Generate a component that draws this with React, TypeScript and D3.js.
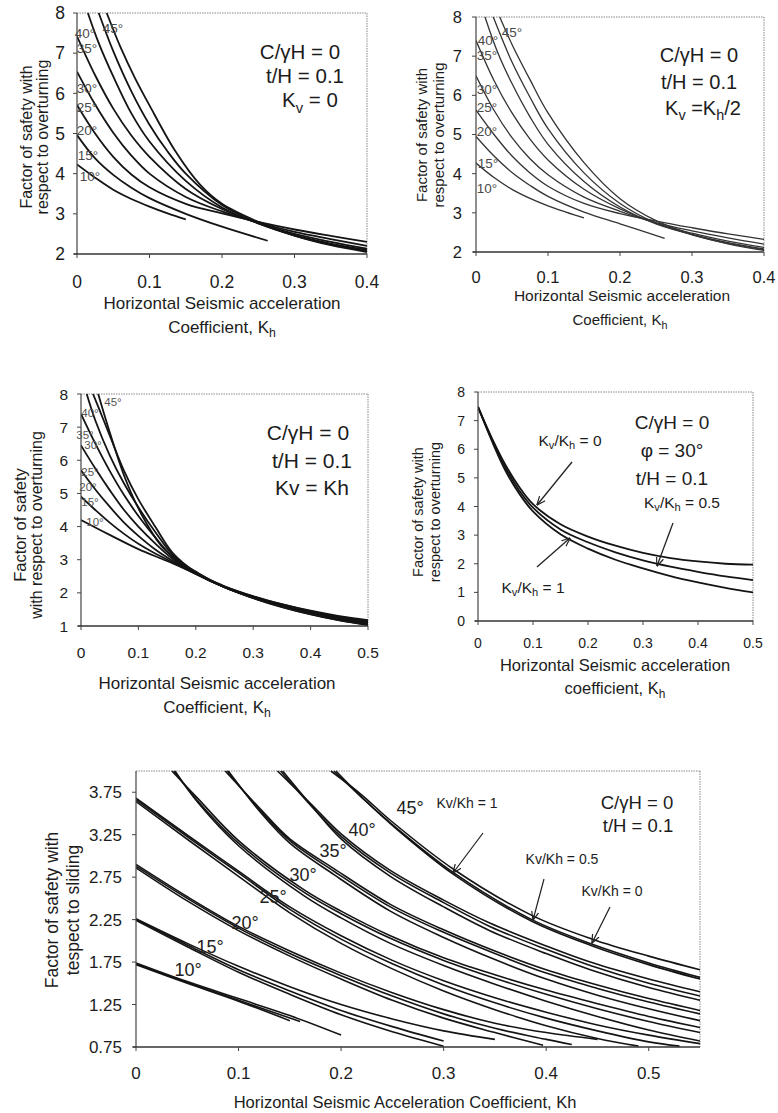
import React from 'react';
import * as d3 from 'd3';

type Pt = [number, number];

// ---------------- tick values ----------------
const ticksX04 = [0, 0.1, 0.2, 0.3, 0.4];
const ticksX05 = [0, 0.1, 0.2, 0.3, 0.4, 0.5];
const ticksY2to8 = [2, 3, 4, 5, 6, 7, 8];
const ticksY1to8 = [1, 2, 3, 4, 5, 6, 7, 8];
const ticksY0to8 = [0, 1, 2, 3, 4, 5, 6, 7, 8];
const ticksYSlide = [0.75, 1.25, 1.75, 2.25, 2.75, 3.25, 3.75];
const angleNames = ['10°', '15°', '20°', '25°', '30°', '35°', '40°', '45°'];

// ---------------- Panel A: overturning, Kv = 0 ----------------
const ovA10: Pt[] = [[0, 4.23], [0.025, 3.9], [0.05, 3.6], [0.075, 3.37], [0.1, 3.18], [0.125, 3.01], [0.15, 2.86]];
const ovA15: Pt[] = [[0, 4.96], [0.025, 4.38], [0.05, 3.97], [0.075, 3.65], [0.1, 3.39], [0.15, 3.0], [0.2, 2.68], [0.263, 2.33]];
const ovA20: Pt[] = [[0, 5.71], [0.025, 5.0], [0.05, 4.42], [0.075, 3.98], [0.1, 3.66], [0.15, 3.25], [0.2, 3.01], [0.25, 2.8], [0.3, 2.61], [0.35, 2.45], [0.4, 2.3]];
const ovA25: Pt[] = [[0, 6.54], [0.025, 5.72], [0.05, 5.02], [0.075, 4.45], [0.1, 4.0], [0.15, 3.42], [0.2, 3.06], [0.25, 2.78], [0.3, 2.55], [0.35, 2.37], [0.4, 2.2]];
const ovA30: Pt[] = [[0, 7.42], [0.025, 6.45], [0.05, 5.62], [0.075, 4.95], [0.1, 4.42], [0.15, 3.62], [0.2, 3.12], [0.25, 2.77], [0.3, 2.5], [0.35, 2.3], [0.4, 2.13]];
const ovA35: Pt[] = [[0.015, 8], [0.03, 7.25], [0.05, 6.42], [0.075, 5.5], [0.1, 4.8], [0.15, 3.82], [0.2, 3.16], [0.25, 2.76], [0.3, 2.47], [0.35, 2.26], [0.4, 2.1]];
const ovA40: Pt[] = [[0.03, 8], [0.05, 7.05], [0.075, 6.05], [0.1, 5.22], [0.125, 4.55], [0.15, 4.0], [0.2, 3.22], [0.25, 2.77], [0.3, 2.46], [0.35, 2.24], [0.4, 2.07]];
const ovA45: Pt[] = [[0.041, 8], [0.06, 7.15], [0.08, 6.38], [0.1, 5.7], [0.136, 4.55], [0.17, 3.72], [0.2, 3.25], [0.25, 2.8], [0.3, 2.46], [0.35, 2.22], [0.4, 2.05]];

// ---------------- Panel B: overturning, Kv = Kh/2 ----------------
const ovB10: Pt[] = [[0, 4.27], [0.025, 3.9], [0.05, 3.6], [0.075, 3.37], [0.1, 3.18], [0.125, 3.02], [0.15, 2.87]];
const ovB15: Pt[] = [[0, 4.95], [0.025, 4.45], [0.05, 4.03], [0.075, 3.7], [0.1, 3.42], [0.15, 3.02], [0.2, 2.72], [0.262, 2.35]];
const ovB20: Pt[] = [[0, 5.62], [0.025, 5.0], [0.05, 4.45], [0.075, 4.02], [0.1, 3.68], [0.15, 3.24], [0.2, 2.98], [0.25, 2.79], [0.3, 2.62], [0.35, 2.46], [0.4, 2.32]];
const ovB25: Pt[] = [[0, 6.5], [0.025, 5.62], [0.05, 4.92], [0.075, 4.38], [0.1, 3.97], [0.15, 3.4], [0.2, 3.04], [0.25, 2.75], [0.3, 2.54], [0.35, 2.36], [0.4, 2.2]];
const ovB30: Pt[] = [[0, 7.4], [0.025, 6.38], [0.05, 5.55], [0.075, 4.88], [0.1, 4.35], [0.15, 3.6], [0.2, 3.1], [0.25, 2.73], [0.3, 2.48], [0.35, 2.28], [0.4, 2.12]];
const ovB35: Pt[] = [[0.0125, 8], [0.03, 7.1], [0.05, 6.3], [0.075, 5.45], [0.1, 4.75], [0.15, 3.8], [0.2, 3.15], [0.25, 2.72], [0.3, 2.45], [0.35, 2.24], [0.4, 2.08]];
const ovB40: Pt[] = [[0.024, 8], [0.05, 6.85], [0.075, 5.95], [0.1, 5.15], [0.15, 4.02], [0.2, 3.24], [0.25, 2.74], [0.3, 2.44], [0.35, 2.22], [0.4, 2.06]];
const ovB45: Pt[] = [[0.033, 8], [0.05, 7.3], [0.075, 6.4], [0.1, 5.55], [0.15, 4.28], [0.2, 3.36], [0.25, 2.8], [0.3, 2.45], [0.35, 2.21], [0.4, 2.04]];

// ---------------- Panel C: overturning, Kv = Kh ----------------
const ovC10: Pt[] = [[0, 4.2], [0.05, 3.75], [0.1, 3.32], [0.15, 2.96], [0.2, 2.58], [0.25, 2.2], [0.3, 1.9], [0.35, 1.66], [0.4, 1.46], [0.45, 1.3], [0.5, 1.18]];
const ovC15: Pt[] = [[0, 4.9], [0.025, 4.5], [0.05, 4.12], [0.075, 3.78], [0.1, 3.48], [0.13, 3.18], [0.16, 2.92], [0.2, 2.57], [0.25, 2.19], [0.3, 1.89], [0.35, 1.65], [0.4, 1.45], [0.45, 1.28], [0.5, 1.15]];
const ovC20: Pt[] = [[0, 5.7], [0.025, 5.12], [0.05, 4.6], [0.075, 4.12], [0.1, 3.72], [0.13, 3.3], [0.16, 2.96], [0.2, 2.57], [0.25, 2.18], [0.3, 1.88], [0.35, 1.63], [0.4, 1.43], [0.45, 1.26], [0.5, 1.12]];
const ovC25: Pt[] = [[0, 6.45], [0.025, 5.75], [0.05, 5.1], [0.075, 4.5], [0.1, 4.0], [0.13, 3.48], [0.16, 3.02], [0.2, 2.58], [0.25, 2.17], [0.3, 1.87], [0.35, 1.62], [0.4, 1.41], [0.45, 1.23], [0.5, 1.09]];
const ovC30: Pt[] = [[0, 7.4], [0.025, 6.5], [0.05, 5.68], [0.075, 4.95], [0.1, 4.32], [0.13, 3.66], [0.16, 3.08], [0.2, 2.59], [0.25, 2.17], [0.3, 1.86], [0.35, 1.6], [0.4, 1.39], [0.45, 1.21], [0.5, 1.07]];
const ovC35: Pt[] = [[0.01, 8], [0.025, 7.2], [0.05, 6.15], [0.075, 5.3], [0.1, 4.58], [0.13, 3.82], [0.16, 3.14], [0.2, 2.6], [0.25, 2.17], [0.3, 1.85], [0.35, 1.59], [0.4, 1.37], [0.45, 1.19], [0.5, 1.05]];
const ovC40: Pt[] = [[0.021, 8], [0.035, 7.4], [0.05, 6.75], [0.075, 5.68], [0.1, 4.82], [0.13, 3.98], [0.16, 3.2], [0.2, 2.62], [0.25, 2.17], [0.3, 1.85], [0.35, 1.58], [0.4, 1.36], [0.45, 1.18], [0.5, 1.04]];
const ovC45: Pt[] = [[0.03, 8], [0.048, 6.96], [0.077, 5.45], [0.106, 4.35], [0.14, 3.42], [0.17, 2.96], [0.2, 2.64], [0.25, 2.17], [0.3, 1.84], [0.35, 1.57], [0.4, 1.35], [0.45, 1.17], [0.5, 1.03]];

// ---------------- Panel D: overturning, phi = 30°, Kv/Kh ratios ----------------
const ovDk0: Pt[] = [[0, 7.48], [0.025, 6.4], [0.05, 5.45], [0.075, 4.68], [0.1, 4.08], [0.15, 3.38], [0.2, 2.95], [0.25, 2.63], [0.3, 2.38], [0.35, 2.2], [0.4, 2.08], [0.45, 2.0], [0.5, 1.97]];
const ovDk05: Pt[] = [[0, 7.48], [0.025, 6.35], [0.05, 5.35], [0.075, 4.56], [0.1, 3.96], [0.15, 3.2], [0.2, 2.75], [0.25, 2.4], [0.3, 2.12], [0.35, 1.9], [0.4, 1.72], [0.45, 1.56], [0.5, 1.43]];
const ovDk1: Pt[] = [[0, 7.48], [0.025, 6.3], [0.05, 5.25], [0.075, 4.45], [0.1, 3.83], [0.15, 3.03], [0.2, 2.53], [0.25, 2.14], [0.3, 1.84], [0.35, 1.57], [0.4, 1.35], [0.45, 1.16], [0.5, 1.0]];

// ---------------- Panel E: sliding ----------------
const sl10k1: Pt[] = [[0, 1.74], [0.05, 1.52], [0.1, 1.32], [0.15, 1.12], [0.2, 0.89]];
const sl10k05: Pt[] = [[0, 1.73], [0.05, 1.51], [0.1, 1.3], [0.16, 1.05]];
const sl10k0: Pt[] = [[0, 1.72], [0.05, 1.5], [0.1, 1.29], [0.15, 1.06]];
const sl15k1: Pt[] = [[0, 2.26], [0.05, 1.97], [0.1, 1.7], [0.15, 1.46], [0.2, 1.25], [0.25, 1.08], [0.3, 0.94], [0.35, 0.84]];
const sl15k05: Pt[] = [[0, 2.25], [0.05, 1.95], [0.1, 1.66], [0.15, 1.41], [0.2, 1.18], [0.25, 0.99], [0.3, 0.82]];
const sl15k0: Pt[] = [[0, 2.24], [0.05, 1.93], [0.1, 1.63], [0.15, 1.37], [0.2, 1.13], [0.25, 0.93], [0.3, 0.76]];
const sl20k1: Pt[] = [[0, 2.9], [0.05, 2.52], [0.1, 2.17], [0.15, 1.88], [0.2, 1.62], [0.25, 1.39], [0.3, 1.19], [0.35, 1.03], [0.4, 0.92], [0.45, 0.84]];
const sl20k05: Pt[] = [[0, 2.88], [0.05, 2.5], [0.1, 2.15], [0.15, 1.85], [0.2, 1.59], [0.25, 1.35], [0.3, 1.14], [0.35, 0.97], [0.4, 0.84], [0.425, 0.78]];
const sl20k0: Pt[] = [[0, 2.86], [0.05, 2.47], [0.1, 2.12], [0.15, 1.82], [0.2, 1.55], [0.25, 1.3], [0.3, 1.09], [0.35, 0.92], [0.397, 0.77]];
const sl25k1: Pt[] = [[0, 3.68], [0.053, 3.22], [0.1, 2.82], [0.15, 2.4], [0.2, 2.06], [0.25, 1.77], [0.3, 1.53], [0.35, 1.33], [0.4, 1.16], [0.45, 1.01], [0.5, 0.89], [0.55, 0.79]];
const sl25k05: Pt[] = [[0, 3.66], [0.053, 3.2], [0.1, 2.8], [0.15, 2.37], [0.2, 2.02], [0.25, 1.73], [0.3, 1.48], [0.35, 1.27], [0.4, 1.09], [0.45, 0.94], [0.5, 0.81], [0.53, 0.76]];
const sl25k0: Pt[] = [[0, 3.64], [0.053, 3.17], [0.1, 2.76], [0.15, 2.33], [0.2, 1.97], [0.25, 1.67], [0.3, 1.41], [0.35, 1.19], [0.4, 1.0], [0.45, 0.85], [0.49, 0.76]];
const sl30k1: Pt[] = [[0.035, 4.0], [0.06, 3.68], [0.1, 3.18], [0.164, 2.6], [0.2, 2.35], [0.248, 2.06], [0.3, 1.8], [0.35, 1.6], [0.4, 1.42], [0.45, 1.26], [0.5, 1.11], [0.55, 0.98]];
const sl30k05: Pt[] = [[0.037, 4.0], [0.06, 3.65], [0.1, 3.15], [0.164, 2.57], [0.2, 2.32], [0.248, 2.03], [0.3, 1.77], [0.35, 1.56], [0.4, 1.37], [0.45, 1.2], [0.5, 1.05], [0.55, 0.92]];
const sl30k0: Pt[] = [[0.038, 4.0], [0.061, 3.62], [0.1, 3.12], [0.164, 2.53], [0.2, 2.27], [0.248, 1.97], [0.3, 1.71], [0.35, 1.49], [0.4, 1.29], [0.45, 1.11], [0.5, 0.95], [0.55, 0.82]];
const sl35k1: Pt[] = [[0.087, 4.0], [0.12, 3.57], [0.15, 3.2], [0.193, 2.85], [0.248, 2.43], [0.3, 2.13], [0.35, 1.88], [0.4, 1.66], [0.45, 1.48], [0.5, 1.32], [0.55, 1.18]];
const sl35k05: Pt[] = [[0.089, 4.0], [0.12, 3.55], [0.15, 3.18], [0.193, 2.82], [0.248, 2.4], [0.3, 2.1], [0.35, 1.85], [0.4, 1.62], [0.45, 1.44], [0.5, 1.28], [0.55, 1.14]];
const sl35k0: Pt[] = [[0.09, 4.0], [0.121, 3.52], [0.15, 3.15], [0.193, 2.78], [0.248, 2.35], [0.3, 2.04], [0.35, 1.78], [0.4, 1.55], [0.45, 1.36], [0.5, 1.2], [0.55, 1.06]];
const sl40k1: Pt[] = [[0.138, 4.0], [0.17, 3.62], [0.2, 3.26], [0.248, 2.83], [0.3, 2.48], [0.345, 2.21], [0.4, 1.94], [0.443, 1.75], [0.5, 1.55], [0.55, 1.4]];
const sl40k05: Pt[] = [[0.141, 4.0], [0.17, 3.6], [0.2, 3.23], [0.248, 2.8], [0.3, 2.45], [0.345, 2.17], [0.4, 1.9], [0.443, 1.71], [0.5, 1.5], [0.55, 1.35]];
const sl40k0: Pt[] = [[0.143, 4.0], [0.172, 3.58], [0.2, 3.2], [0.248, 2.76], [0.3, 2.4], [0.345, 2.12], [0.4, 1.85], [0.443, 1.66], [0.5, 1.45], [0.55, 1.3]];
const sl45k1: Pt[] = [[0.19, 4.0], [0.22, 3.72], [0.248, 3.42], [0.31, 2.84], [0.386, 2.3], [0.445, 2.02], [0.5, 1.82], [0.55, 1.66]];
const sl45k05: Pt[] = [[0.193, 4.0], [0.22, 3.69], [0.248, 3.39], [0.31, 2.8], [0.386, 2.25], [0.445, 1.96], [0.5, 1.74], [0.55, 1.57]];
const sl45k0: Pt[] = [[0.195, 4.0], [0.222, 3.67], [0.25, 3.36], [0.31, 2.78], [0.386, 2.23], [0.445, 1.94], [0.5, 1.72], [0.55, 1.55]];

const seriesA = [ovA10, ovA15, ovA20, ovA25, ovA30, ovA35, ovA40, ovA45];
const seriesB = [ovB10, ovB15, ovB20, ovB25, ovB30, ovB35, ovB40, ovB45];
const seriesC = [ovC10, ovC15, ovC20, ovC25, ovC30, ovC35, ovC40, ovC45];
const seriesD = [ovDk0, ovDk05, ovDk1];
const seriesE = [
  sl10k1, sl10k05, sl10k0, sl15k1, sl15k05, sl15k0, sl20k1, sl20k05, sl20k0,
  sl25k1, sl25k05, sl25k0, sl30k1, sl30k05, sl30k0, sl35k1, sl35k05, sl35k0,
  sl40k1, sl40k05, sl40k0, sl45k1, sl45k05, sl45k0,
];

// ---------------- layout (positions / styles) ----------------
const FONT = "'Liberation Sans', Arial, Helvetica, sans-serif";
const INK = '#1c1c1c';

type Part = [string, boolean?];

function Rich(props: { x: number; cy: number; parts: Part[]; size: number; anchor?: string; fill?: string; rotate?: boolean }) {
  const { x, cy, parts, size, anchor = 'middle', fill = INK, rotate = false } = props;
  let cur = 0;
  const y = rotate ? 0 : cy + size * 0.36;
  const tf = rotate ? `translate(${x + size * 0.36},${cy}) rotate(-90)` : undefined;
  return (
    <text x={rotate ? 0 : x} y={y} fontSize={size} textAnchor={anchor} fill={fill} transform={tf} fontFamily={FONT}>
      {parts.map(([t, sub], i) => {
        const target = sub ? size * 0.25 : 0;
        const dy = target - cur;
        cur = target;
        return (
          <tspan key={i} dy={dy} fontSize={sub ? size * 0.72 : size}>
            {t}
          </tspan>
        );
      })}
    </text>
  );
}

interface PanelProps {
  id: string;
  box: { l: number; r: number; t: number; b: number };
  xd: [number, number];
  yd: [number, number];
  xt: number[];
  yt: number[];
  yfmt: (d: number) => string;
  font: number;
  yOff: number;
  xOff: number;
  series: Pt[][];
  stroke: string;
  sw: number;
}

function Panel(p: PanelProps) {
  const { box } = p;
  const x = d3.scaleLinear().domain(p.xd).range([box.l, box.r]);
  const y = d3.scaleLinear().domain(p.yd).range([box.b, box.t]);
  const line = d3
    .line<Pt>()
    .x((d) => x(d[0]))
    .y((d) => y(d[1]))
    .curve(d3.curveCatmullRom.alpha(0.5));
  const xfmt = (d: number) => (d === 0 ? '0' : String(d));
  return (
    <g>
      <defs>
        <clipPath id={p.id}>
          <rect x={box.l} y={box.t - 1} width={box.r - box.l} height={box.b - box.t + 1} />
        </clipPath>
      </defs>
      <line x1={box.l} x2={box.r} y1={box.t} y2={box.t} stroke="#888" strokeWidth={1} strokeDasharray="1.5,1" />
      <line x1={box.r} x2={box.r} y1={box.t} y2={box.b} stroke="#888" strokeWidth={1} strokeDasharray="1.5,1" />
      <g clipPath={`url(#${p.id})`}>
        {p.series.map((s, i) => (
          <path key={i} d={line(s) || ''} fill="none" stroke={p.stroke} strokeWidth={p.sw} strokeLinejoin="round" />
        ))}
      </g>
      <line x1={box.l} x2={box.l} y1={box.t} y2={box.b} stroke="#444" strokeWidth={1.2} />
      <line x1={box.l - 3} x2={box.r} y1={box.b} y2={box.b} stroke="#333" strokeWidth={1.5} />
      {p.yt.map((t) => (
        <g key={'y' + t}>
          <line x1={box.l - 4} x2={box.l} y1={y(t)} y2={y(t)} stroke="#444" strokeWidth={1} />
          <text x={box.l - p.yOff} y={y(t) + p.font * 0.36} fontSize={p.font} textAnchor="end" fill={INK} fontFamily={FONT}>
            {p.yfmt(t)}
          </text>
        </g>
      ))}
      {p.xt.map((t) => (
        <g key={'x' + t}>
          <line x1={x(t)} x2={x(t)} y1={box.b} y2={box.b + 4} stroke="#444" strokeWidth={1} />
          <text x={x(t)} y={box.b + p.xOff + p.font * 0.36} fontSize={p.font} textAnchor="middle" fill={INK} fontFamily={FONT}>
            {xfmt(t)}
          </text>
        </g>
      ))}
    </g>
  );
}

const labelsA = [[90, 176], [88, 155], [87, 130], [87, 107], [87, 88], [87, 48], [85, 33], [113, 28]];
const labelsB = [[487, 188], [488, 163], [487, 131], [487, 107], [487, 89], [487, 55], [488, 40], [512, 32]];
const labelsC = [[95, 522], [90, 502], [88, 487], [90, 472], [93, 445], [85, 435], [90, 413], [113, 402]];
const labelsE = [[188, 970], [210, 947], [245, 923], [273, 897], [303, 875], [333, 851], [362, 830], [410, 808]];

const intFmt = (d: number) => String(d);
const slideFmt = (d: number) => d.toFixed(2);

export default function App() {
  return (
    <svg width={778} height={1113} style={{ position: 'absolute', left: 0, top: 0, background: '#fff' }} fontFamily={FONT}>
      <defs>
        <marker id="ah" viewBox="0 0 10 10" refX="9.5" refY="5" markerWidth="9" markerHeight="9" orient="auto" markerUnits="userSpaceOnUse">
          <path d="M0,1 L10,5 L0,9" fill="none" stroke="#222" strokeWidth={1.3} />
        </marker>
      </defs>

      {/* Panel A */}
      <Panel id="ca" box={{ l: 77, r: 367, t: 13, b: 254 }} xd={[0, 0.4]} yd={[2, 8]} xt={ticksX04} yt={ticksY2to8} yfmt={intFmt} font={17.5} yOff={12} xOff={28} series={seriesA} stroke="#141414" sw={1.8} />
      {labelsA.map(([lx, ly], i) => (
        <Rich key={'la' + i} x={lx} cy={ly} parts={[[angleNames[i]]]} size={13.5} fill="#4a4a4a" />
      ))}
      <Rich x={300} cy={52} parts={[['C/γH = 0']]} size={20.5} />
      <Rich x={305} cy={76} parts={[['t/H = 0.1']]} size={20.5} />
      <Rich x={310} cy={100} parts={[['K'], ['v', true], [' = 0']]} size={20.5} />
      <Rich x={222} cy={303} parts={[['Horizontal Seismic acceleration']]} size={17} />
      <Rich x={222} cy={327} parts={[['Coefficient, K'], ['h', true]]} size={17} />
      <Rich x={26} cy={137} parts={[['Factor of safety with']]} size={16} rotate />
      <Rich x={42} cy={137} parts={[['respect to overturning']]} size={16} rotate />

      {/* Panel B */}
      <Panel id="cb" box={{ l: 476, r: 764, t: 17, b: 252 }} xd={[0, 0.4]} yd={[2, 8]} xt={ticksX04} yt={ticksY2to8} yfmt={intFmt} font={16.5} yOff={14} xOff={25} series={seriesB} stroke="#333" sw={1.3} />
      {labelsB.map(([lx, ly], i) => (
        <Rich key={'lb' + i} x={lx} cy={ly} parts={[[angleNames[i]]]} size={13.5} fill="#4a4a4a" />
      ))}
      <Rich x={699} cy={55} parts={[['C/γH = 0']]} size={20} />
      <Rich x={699} cy={82} parts={[['t/H = 0.1']]} size={20} />
      <Rich x={703} cy={108} parts={[['K'], ['v', true], [' =K'], ['h', true], ['/2']]} size={20} />
      <Rich x={622} cy={295} parts={[['Horizontal Seismic acceleration']]} size={15.5} />
      <Rich x={620} cy={320} parts={[['Coefficient, K'], ['h', true]]} size={15} />
      <Rich x={422} cy={135} parts={[['Factor of safety with']]} size={15} rotate />
      <Rich x={439} cy={135} parts={[['respect to overturning']]} size={15} rotate />

      {/* Panel C */}
      <Panel id="cc" box={{ l: 81, r: 368, t: 394, b: 626 }} xd={[0, 0.5]} yd={[1, 8]} xt={ticksX05} yt={ticksY1to8} yfmt={intFmt} font={15.5} yOff={13} xOff={26} series={seriesC} stroke="#141414" sw={1.8} />
      {labelsC.map(([lx, ly], i) => (
        <Rich key={'lc' + i} x={lx} cy={ly} parts={[[angleNames[i]]]} size={11.5} fill="#555" />
      ))}
      <Rich x={308} cy={432} parts={[['C/γH = 0']]} size={21} />
      <Rich x={312} cy={460} parts={[['t/H = 0.1']]} size={21} />
      <Rich x={312} cy={487} parts={[['Kv = Kh']]} size={21} />
      <Rich x={217} cy={683} parts={[['Horizontal Seismic acceleration']]} size={17} />
      <Rich x={217} cy={707} parts={[['Coefficient, K'], ['h', true]]} size={17} />
      <Rich x={20} cy={525} parts={[['Factor of safety']]} size={16.5} rotate />
      <Rich x={36} cy={525} parts={[['with respect to overturning']]} size={16} rotate />

      {/* Panel D */}
      <Panel id="cd" box={{ l: 478, r: 753, t: 392, b: 621 }} xd={[0, 0.5]} yd={[0, 8]} xt={ticksX05} yt={ticksY0to8} yfmt={intFmt} font={14} yOff={13} xOff={22} series={seriesD} stroke="#141414" sw={1.8} />
      <Rich x={672} cy={422} parts={[['C/γH = 0']]} size={19} />
      <Rich x={672} cy={450} parts={[['φ = 30°']]} size={19} />
      <Rich x={672} cy={478} parts={[['t/H = 0.1']]} size={19} />
      <Rich x={570} cy={440} parts={[['K'], ['v', true], ['/K'], ['h', true], [' = 0']]} size={15.5} />
      <Rich x={682} cy={502} parts={[['K'], ['v', true], ['/K'], ['h', true], [' = 0.5']]} size={15.5} />
      <Rich x={533} cy={587} parts={[['K'], ['v', true], ['/K'], ['h', true], [' = 1']]} size={15.5} />
      <line x1={572} y1={462} x2={537} y2={505} stroke="#222" strokeWidth={1.3} markerEnd="url(#ah)" />
      <line x1={673} y1={523} x2={657} y2={566} stroke="#222" strokeWidth={1.3} markerEnd="url(#ah)" />
      <line x1={537} y1={567} x2={570} y2={538} stroke="#222" strokeWidth={1.3} markerEnd="url(#ah)" />
      <Rich x={615} cy={665} parts={[['Horizontal Seismic acceleration']]} size={16.5} />
      <Rich x={615} cy={688} parts={[['coefficient, K'], ['h', true]]} size={16.5} />
      <Rich x={418} cy={512} parts={[['Factor of safety with']]} size={14.5} rotate />
      <Rich x={435} cy={512} parts={[['respect to overturning']]} size={14.5} rotate />

      {/* Panel E */}
      <Panel id="ce" box={{ l: 136, r: 700, t: 771, b: 1047 }} xd={[0, 0.55]} yd={[0.75, 4.0]} xt={ticksX05} yt={ticksYSlide} yfmt={slideFmt} font={17} yOff={14} xOff={26} series={seriesE} stroke="#141414" sw={1.6} />
      {labelsE.map(([lx, ly], i) => (
        <Rich key={'le' + i} x={lx} cy={ly} parts={[[angleNames[i]]]} size={18} fill="#222" />
      ))}
      <Rich x={637} cy={802} parts={[['C/γH = 0']]} size={18.5} />
      <Rich x={638} cy={825} parts={[['t/H = 0.1']]} size={18.5} />
      <Rich x={467} cy={803} parts={[['Kv/Kh = 1']]} size={14} />
      <Rich x={562} cy={859} parts={[['Kv/Kh = 0.5']]} size={14} />
      <Rich x={612} cy={891} parts={[['Kv/Kh = 0']]} size={14} />
      <line x1={483} y1={833} x2={453} y2={873} stroke="#222" strokeWidth={1.2} markerEnd="url(#ah)" />
      <line x1={544} y1={879} x2={533} y2={920} stroke="#222" strokeWidth={1.2} markerEnd="url(#ah)" />
      <line x1={610} y1={907} x2={592} y2={943} stroke="#222" strokeWidth={1.2} markerEnd="url(#ah)" />
      <Rich x={405} cy={1102} parts={[['Horizontal Seismic Acceleration Coefficient,  Kh']]} size={16.5} />
      <Rich x={52} cy={910} parts={[['Factor of safety with']]} size={17.5} rotate />
      <Rich x={73} cy={910} parts={[['tespect to sliding']]} size={17.5} rotate />
    </svg>
  );
}
